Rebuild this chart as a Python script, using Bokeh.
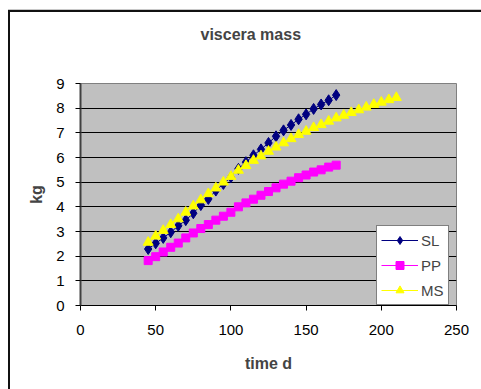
from bokeh.plotting import figure
from bokeh.models import Legend, LegendItem, Range1d, FixedTicker
from bokeh.embed import file_html
from bokeh.resources import INLINE

time_sl = [45, 50, 55, 60, 65, 70, 75, 80, 85, 90, 95, 100, 105, 110, 115, 120, 125,
           130, 135, 140, 145, 150, 155, 160, 165, 170]
sl = [2.29, 2.52, 2.74, 2.97, 3.23, 3.46, 3.74, 4.07, 4.32, 4.66, 4.93, 5.20, 5.54,
      5.81, 6.09, 6.33, 6.59, 6.86, 7.10, 7.32, 7.55, 7.75, 7.97, 8.15, 8.32, 8.53]
time_pp = time_sl
pp = [1.82, 1.98, 2.17, 2.36, 2.53, 2.74, 2.94, 3.12, 3.28, 3.46, 3.62, 3.78, 4.00,
      4.16, 4.31, 4.47, 4.62, 4.77, 4.92, 5.04, 5.18, 5.29, 5.41, 5.50, 5.61, 5.69]
time_ms = [45, 50, 55, 60, 65, 70, 75, 80, 85, 90, 95, 100, 105, 110, 115, 120, 125,
           130, 135, 140, 145, 150, 155, 160, 165, 170, 175, 180, 185, 190, 195, 200,
           205, 210]
ms = [2.56, 2.81, 3.04, 3.28, 3.51, 3.78, 4.03, 4.28, 4.53, 4.76, 5.00, 5.23, 5.48,
      5.67, 5.88, 6.06, 6.25, 6.42, 6.59, 6.76, 6.93, 7.06, 7.21, 7.33, 7.47, 7.60,
      7.71, 7.82, 7.93, 8.04, 8.15, 8.24, 8.34, 8.43]

x_ticks = [0, 50, 100, 150, 200, 250]
y_ticks = [0, 1, 2, 3, 4, 5, 6, 7, 8, 9]
title_text = "viscera mass"

FONT = "Liberation Sans"

p = figure(width=481, height=389, output_backend="svg", toolbar_location=None,
           x_range=Range1d(0, 250), y_range=Range1d(0, 9),
           min_border_left=80, min_border_right=25, min_border_top=83, min_border_bottom=84)

p.background_fill_color = "#C0C0C0"
p.border_fill_alpha = 0
p.outline_line_color = "#808080"
p.outline_line_width = 1
p.styles = {
    "background": "linear-gradient(#c8c8c8, #c8c8c8) 8px 9px / 100% 1px no-repeat, "
                  "linear-gradient(#111, #111) 8px 10px / 100% 2px no-repeat, "
                  "linear-gradient(#111, #111) 8px 10px / 2px 100% no-repeat, white"
}

p.title.text = title_text + "\n"
p.title.text_font = FONT
p.title.text_font_size = "16px"
p.title.text_font_style = "bold"
p.title.align = "left"
p.title.offset = 120
p.title.vertical_align = "top"
p.title.standoff = 44

p.xgrid.grid_line_color = None
p.ygrid.grid_line_color = "black"
p.ygrid.grid_line_width = 1
p.ygrid.ticker = FixedTicker(ticks=y_ticks)

for ax in (p.xaxis[0], p.yaxis[0]):
    ax.major_label_text_font = FONT
    ax.major_label_text_font_size = "15px"
    ax.major_label_text_color = "black"
    ax.axis_label_text_font = FONT
    ax.axis_label_text_font_size = "16px"
    ax.axis_label_text_font_style = "bold"
    ax.minor_tick_line_color = None
    ax.major_tick_out = 5
    ax.major_tick_in = 0
    ax.major_tick_line_color = "black"

p.xaxis.ticker = FixedTicker(ticks=x_ticks)
p.yaxis.ticker = FixedTicker(ticks=y_ticks)
p.xaxis.axis_label = "time d"
p.yaxis.axis_label = "kg"
p.xaxis.axis_line_color = "black"
p.yaxis.axis_line_color = "#404040"
p.yaxis.axis_line_width = 2
p.xaxis.major_label_standoff = 14
p.yaxis.major_label_standoff = 11
p.xaxis.axis_label_standoff = 17
p.yaxis.axis_label_standoff = 8

l_sl = p.line(time_sl, sl, line_color="#000080", line_width=1)
m_sl = p.scatter(time_sl, sl, marker="diamond", size=11, fill_color="#000080", line_color="#000080")
l_pp = p.line(time_pp, pp, line_color="#FF00FF", line_width=1)
m_pp = p.scatter(time_pp, pp, marker="square", size=8, fill_color="#FF00FF", line_color="#FF00FF")
l_ms = p.line(time_ms, ms, line_color="#FFFF00", line_width=1)
m_ms = p.scatter(time_ms, ms, marker="triangle", size=10, fill_color="#FFFF00", line_color="#FFFF00")

legend = Legend(items=[
    LegendItem(label="SL", renderers=[l_sl, m_sl]),
    LegendItem(label="PP", renderers=[l_pp, m_pp]),
    LegendItem(label="MS", renderers=[l_ms, m_ms]),
], location=(296, 0))
legend.label_text_font = FONT
legend.label_text_font_size = "15px"
legend.glyph_width = 37
legend.glyph_height = 20
legend.label_height = 20
legend.label_width = 18
legend.label_standoff = 3
legend.spacing = 5
legend.padding = 4
legend.margin = 0
legend.border_line_color = "black"
legend.border_line_width = 1
legend.background_fill_color = "white"
legend.background_fill_alpha = 1
p.add_layout(legend, "center")

open("out.html", "w").write(file_html(p, INLINE))
